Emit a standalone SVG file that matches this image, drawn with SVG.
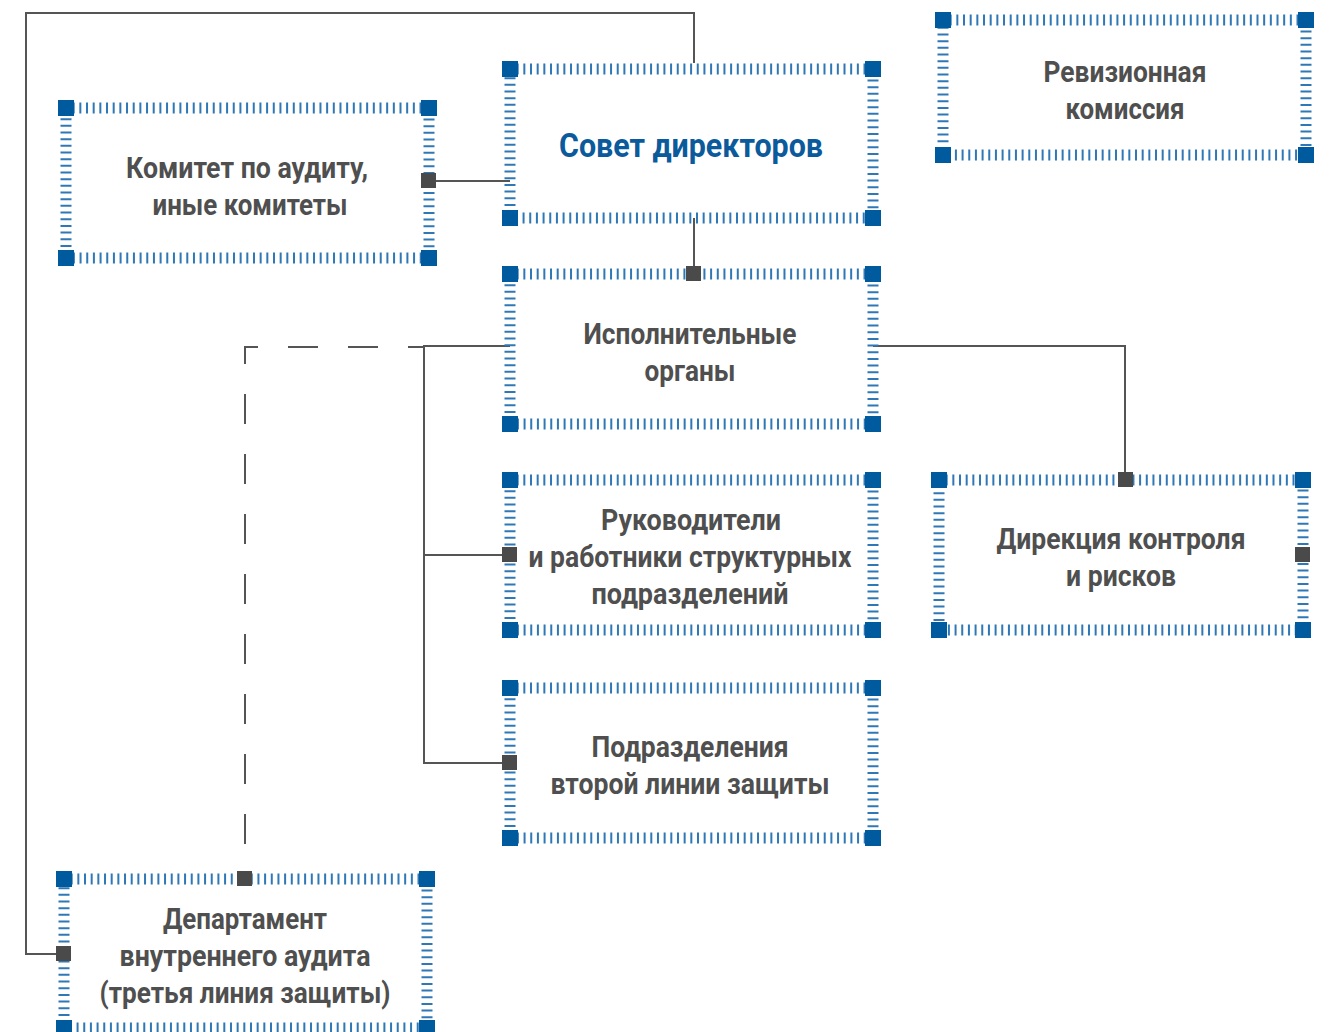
<svg xmlns="http://www.w3.org/2000/svg" width="1332" height="1032" viewBox="0 0 1332 1032">
<style>
.edge{fill:none;stroke:#2f78b5;stroke-width:11;stroke-dasharray:2 4.67}
.corner{fill:#005a9e}
.pin{fill:#4a4a4a}
.con{fill:none;stroke:#555;stroke-width:2}
.dash{fill:none;stroke:#555;stroke-width:2;stroke-dasharray:30 30;stroke-dashoffset:14}
.t{font-family:Roboto,"DejaVu Sans",sans-serif;font-weight:700;font-size:29px;fill:#4f4f4f;text-anchor:middle}
.tb{font-family:Roboto,"DejaVu Sans",sans-serif;font-weight:700;font-size:33px;fill:#0a5a9c;text-anchor:middle}
</style>
<rect width="1332" height="1032" fill="#fff"/>
<g id="connectors">
<path class="con" d="M64 954H26V13H694V63"/>
<path class="con" d="M429 181H510"/>
<path class="con" d="M694 218V274"/>
<path class="con" d="M510 346H424V763H510M424 555H510"/>
<path class="dash" d="M424 347H245V879"/>
<path class="con" d="M873 346H1125V480"/>
</g>
<g id="sovet">
<rect class="edge" x="510" y="69" width="363" height="149"/>
<rect class="corner" x="502" y="61" width="16" height="16"/><rect class="corner" x="865" y="61" width="16" height="16"/><rect class="corner" x="502" y="210" width="16" height="16"/><rect class="corner" x="865" y="210" width="16" height="16"/>
<text class="tb" x="691" y="157" textLength="264" lengthAdjust="spacingAndGlyphs">Совет директоров</text>
</g>
<g id="komitet">
<rect class="edge" x="66" y="108" width="363" height="150"/>
<rect class="corner" x="58" y="100" width="16" height="16"/><rect class="corner" x="421" y="100" width="16" height="16"/><rect class="corner" x="58" y="250" width="16" height="16"/><rect class="corner" x="421" y="250" width="16" height="16"/>
<rect class="pin" x="421" y="173" width="15" height="15"/>
<text class="t" x="247" y="178" textLength="242" lengthAdjust="spacingAndGlyphs">Комитет по аудиту,</text>
<text class="t" x="250" y="215" textLength="195" lengthAdjust="spacingAndGlyphs">иные комитеты</text>
</g>
<g id="revizia">
<rect class="edge" x="943" y="20" width="363" height="135"/>
<rect class="corner" x="935" y="12" width="16" height="16"/><rect class="corner" x="1298" y="12" width="16" height="16"/><rect class="corner" x="935" y="147" width="16" height="16"/><rect class="corner" x="1298" y="147" width="16" height="16"/>
<text class="t" x="1125" y="82" textLength="163" lengthAdjust="spacingAndGlyphs">Ревизионная</text>
<text class="t" x="1125" y="119" textLength="119" lengthAdjust="spacingAndGlyphs">комиссия</text>
</g>
<g id="ispoln">
<rect class="edge" x="510" y="274" width="363" height="150"/>
<rect class="corner" x="502" y="266" width="16" height="16"/><rect class="corner" x="865" y="266" width="16" height="16"/><rect class="corner" x="502" y="416" width="16" height="16"/><rect class="corner" x="865" y="416" width="16" height="16"/>
<rect class="pin" x="686" y="266" width="15" height="15"/>
<text class="t" x="690" y="344" textLength="213" lengthAdjust="spacingAndGlyphs">Исполнительные</text>
<text class="t" x="690" y="381" textLength="91" lengthAdjust="spacingAndGlyphs">органы</text>
</g>
<g id="rukovod">
<rect class="edge" x="510" y="480" width="363" height="150"/>
<rect class="corner" x="502" y="472" width="16" height="16"/><rect class="corner" x="865" y="472" width="16" height="16"/><rect class="corner" x="502" y="622" width="16" height="16"/><rect class="corner" x="865" y="622" width="16" height="16"/>
<rect class="pin" x="502" y="547" width="15" height="15"/>
<text class="t" x="691" y="530" textLength="180" lengthAdjust="spacingAndGlyphs">Руководители</text>
<text class="t" x="690" y="567" textLength="323" lengthAdjust="spacingAndGlyphs">и работники структурных</text>
<text class="t" x="690" y="604" textLength="197" lengthAdjust="spacingAndGlyphs">подразделений</text>
</g>
<g id="direkcia">
<rect class="edge" x="939" y="480" width="364" height="150"/>
<rect class="corner" x="931" y="472" width="16" height="16"/><rect class="corner" x="1295" y="472" width="16" height="16"/><rect class="corner" x="931" y="622" width="16" height="16"/><rect class="corner" x="1295" y="622" width="16" height="16"/>
<rect class="pin" x="1118" y="472" width="15" height="15"/>
<rect class="pin" x="1295" y="547" width="15" height="15"/>
<text class="t" x="1121" y="549" textLength="249" lengthAdjust="spacingAndGlyphs">Дирекция контроля</text>
<text class="t" x="1121" y="586" textLength="110" lengthAdjust="spacingAndGlyphs">и рисков</text>
</g>
<g id="podrazd">
<rect class="edge" x="510" y="688" width="363" height="150"/>
<rect class="corner" x="502" y="680" width="16" height="16"/><rect class="corner" x="865" y="680" width="16" height="16"/><rect class="corner" x="502" y="830" width="16" height="16"/><rect class="corner" x="865" y="830" width="16" height="16"/>
<rect class="pin" x="502" y="755" width="15" height="15"/>
<text class="t" x="690" y="757" textLength="197" lengthAdjust="spacingAndGlyphs">Подразделения</text>
<text class="t" x="690" y="794" textLength="279" lengthAdjust="spacingAndGlyphs">второй линии защиты</text>
</g>
<g id="departament">
<rect class="edge" x="64" y="879" width="363" height="149"/>
<rect class="corner" x="56" y="871" width="16" height="16"/><rect class="corner" x="419" y="871" width="16" height="16"/><rect class="corner" x="56" y="1020" width="16" height="16"/><rect class="corner" x="419" y="1020" width="16" height="16"/>
<rect class="pin" x="237" y="871" width="15" height="15"/>
<rect class="pin" x="56" y="946" width="15" height="15"/>
<text class="t" x="245" y="929" textLength="164" lengthAdjust="spacingAndGlyphs">Департамент</text>
<text class="t" x="245" y="966" textLength="251" lengthAdjust="spacingAndGlyphs">внутреннего аудита</text>
<text class="t" x="245" y="1003" textLength="291" lengthAdjust="spacingAndGlyphs">(третья линия защиты)</text>
</g>
</svg>
